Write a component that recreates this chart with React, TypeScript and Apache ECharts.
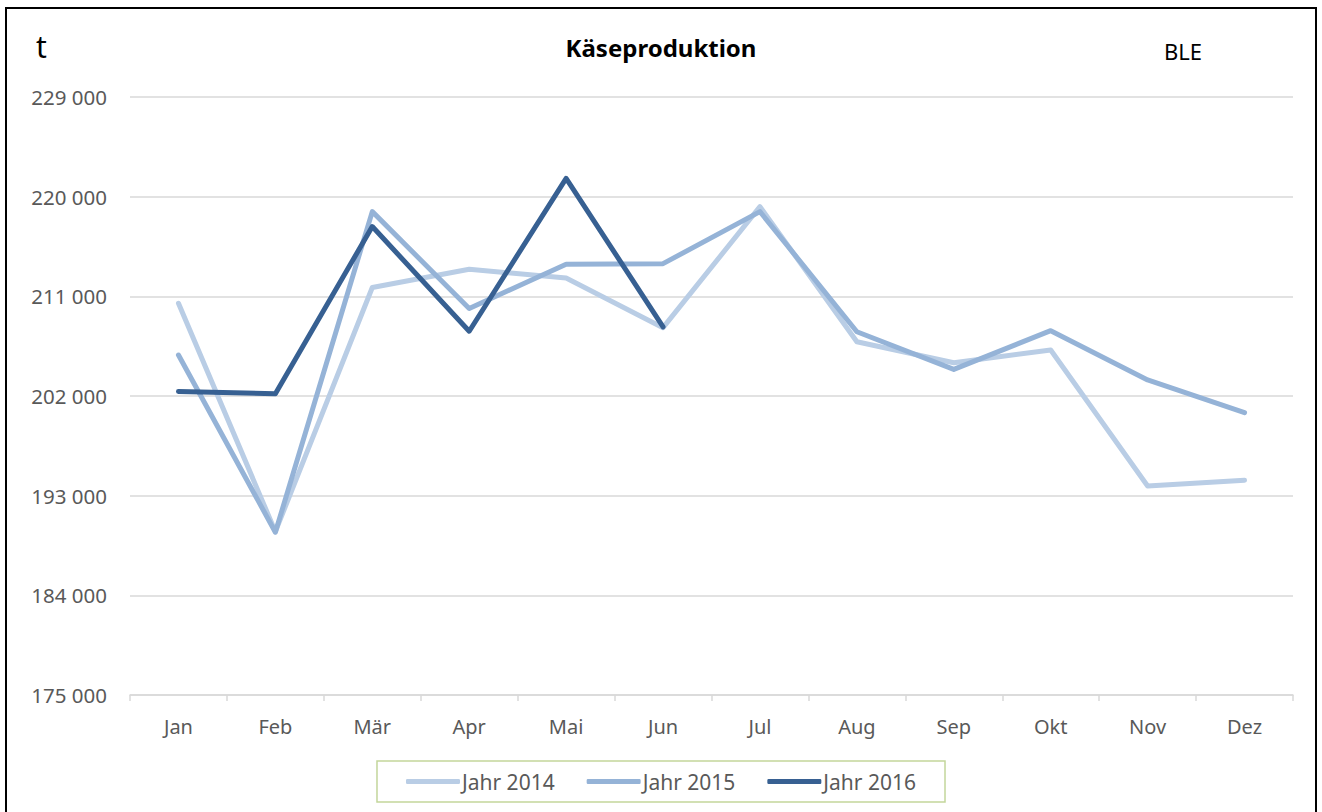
import React, { useEffect, useRef } from "react";
import * as echarts from "echarts";

const months = ["Jan", "Feb", "Mär", "Apr", "Mai", "Jun", "Jul", "Aug", "Sep", "Okt", "Nov", "Dez"];
const seriesNames = ["Jahr 2014", "Jahr 2015", "Jahr 2016"];
const jahr2014 = [210370, 189750, 211800, 213450, 212650, 208170, 219100, 206900, 205000, 206150, 193870, 194400];
const jahr2015 = [205700, 189700, 218650, 209900, 213900, 213950, 218650, 207800, 204400, 207900, 203450, 200500];
const jahr2016 = [202400, 202200, 217300, 207850, 221650, 208250];
const axisMin = 175000;
const axisMax = 229000;
const axisStep = 9000;
const colors = ["#b9cde5", "#95b3d7", "#376092"];

const FONT = "'Noto Sans', sans-serif";

function fmt(v: number): string {
  return String(Math.round(v)).replace(/\B(?=(\d{3})+(?!\d))/g, " ");
}

export default function App() {
  const ref = useRef<HTMLDivElement>(null);
  useEffect(() => {
    document.body.style.margin = "0";
    const chart = echarts.init(ref.current!, null, { renderer: "svg" });
    const data = [jahr2014, jahr2015, jahr2016];
    chart.setOption({
      animation: false,
      backgroundColor: "#ffffff",
      textStyle: { fontFamily: FONT },
      graphic: [
        {
          type: "rect",
          shape: { x: 6, y: 8, width: 1310, height: 820 },
          style: { fill: "none", stroke: "#000000", lineWidth: 2 },
          silent: true,
          z: 100,
        },
      ],
      title: [
        {
          text: "Käseproduktion",
          left: "center",
          top: 30,
          textStyle: { fontFamily: FONT, fontWeight: "bold", fontSize: 24, color: "#000000" },
        },
        {
          text: "t",
          left: 31,
          top: 26,
          textStyle: { fontFamily: FONT, fontWeight: "normal", fontSize: 30, color: "#000000" },
        },
        {
          text: "BLE",
          left: 1159,
          top: 35,
          textStyle: { fontFamily: FONT, fontWeight: "normal", fontSize: 22, color: "#000000" },
        },
      ],
      legend: {
        data: seriesNames,
        bottom: 10,
        left: "center",
        icon: "roundRect",
        itemWidth: 54,
        itemHeight: 5,
        itemGap: 32,
        padding: [10, 29],
        borderColor: "#c3d69b",
        borderWidth: 1.5,
        textStyle: { fontFamily: FONT, fontSize: 21, color: "#595959", padding: [0, 0, 0, -3] },
      },
      grid: { left: 130, right: 29, top: 97, bottom: 117, containLabel: false },
      xAxis: {
        type: "category",
        data: months,
        boundaryGap: true,
        axisLine: { lineStyle: { color: "#d9d9d9", width: 1.5 } },
        axisTick: { show: true, length: 6, lineStyle: { color: "#d9d9d9", width: 1.5 } },
        axisLabel: { color: "#595959", fontSize: 20, margin: 21, fontFamily: FONT },
        splitLine: { show: false },
      },
      yAxis: [
        {
          type: "value",
          min: axisMin,
          max: axisMax,
          show: false,
          splitLine: { show: false },
        },
        {
          type: "value",
          min: 0,
          max: axisMax - axisMin,
          interval: axisStep,
          position: "left",
          axisLine: { show: false },
          axisTick: { show: false },
          axisLabel: {
            color: "#595959",
            fontSize: 20.5,
            margin: 23,
            fontFamily: FONT,
            formatter: (v: number) => fmt(v + axisMin),
          },
          splitLine: { show: true, lineStyle: { color: "#d9d9d9", width: 1.5 } },
        },
      ],
      series: seriesNames.map((name, i) => ({
        name,
        type: "line",
        yAxisIndex: 0,
        data: data[i],
        symbol: "none",
        showSymbol: false,
        color: colors[i],
        lineStyle: { color: colors[i], width: 5, cap: "round", join: "round" },
        z: 2 + i,
      })),
    });
    return () => chart.dispose();
  }, []);
  return <div ref={ref} style={{ width: 1322, height: 812 }} />;
}
